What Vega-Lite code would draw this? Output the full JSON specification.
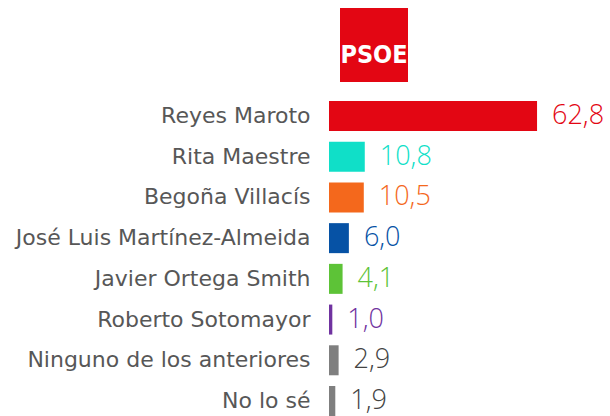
{
  "$schema": "https://vega.github.io/schema/vega-lite/v6.json",
  "padding": {"left": 0, "top": 8, "right": 0, "bottom": 0},
  "background": "white",
  "spacing": 19,
  "config": {
    "view": {"stroke": null},
    "locale": {"number": {"decimal": ",", "thousands": ".", "grouping": [3], "currency": ["", " €"]}}
  },
  "resolve": {"scale": {"x": "independent", "y": "independent"}},
  "vconcat": [
    {
      "width": 90,
      "height": 74,
      "data": {"values": [{"partido": "PSOE"}]},
      "encoding": {
        "x": {"field": "partido", "type": "nominal", "axis": null, "scale": {"paddingInner": 0, "paddingOuter": 0.1618}},
        "y": {"field": "partido", "type": "nominal", "axis": null, "scale": {"paddingInner": 0, "paddingOuter": 0}}
      },
      "layer": [
        {"mark": {"type": "rect", "color": "#E30613"}},
        {
          "mark": {"type": "text", "color": "white", "font": "'DejaVu Sans Condensed', Roboto, sans-serif", "fontWeight": "bold", "fontSize": 25, "baseline": "alphabetic", "align": "center", "dy": 18},
          "encoding": {"text": {"field": "partido"}}
        }
      ]
    },
    {
      "width": 270,
      "height": 315,
      "data": {"values": [
        {"candidato": "Reyes Maroto", "valor": 62.8},
        {"candidato": "Rita Maestre", "valor": 10.8},
        {"candidato": "Begoña Villacís", "valor": 10.5},
        {"candidato": "José Luis Martínez-Almeida", "valor": 6.0},
        {"candidato": "Javier Ortega Smith", "valor": 4.1},
        {"candidato": "Roberto Sotomayor", "valor": 1.0},
        {"candidato": "Ninguno de los anteriores", "valor": 2.9},
        {"candidato": "No lo sé", "valor": 1.9}
      ]},
      "encoding": {
        "y": {
          "field": "candidato", "type": "nominal", "sort": null,
          "scale": {"paddingInner": 0.2632, "paddingOuter": 0},
          "axis": {
            "title": null, "domain": false, "ticks": false, "tickSize": 0,
            "labelPadding": 19, "labelFont": "DejaVu Sans", "labelFontSize": 22,
            "labelColor": "#575757", "labelLimit": 400, "minExtent": 329, "maxExtent": 329
          }
        },
        "x": {"field": "valor", "type": "quantitative", "axis": null, "scale": {"domain": [0, 81.5], "nice": false}}
      },
      "layer": [
        {
          "mark": {"type": "bar"},
          "encoding": {
            "color": {
              "field": "candidato", "type": "nominal", "legend": null,
              "scale": {
                "domain": ["Reyes Maroto", "Rita Maestre", "Begoña Villacís", "José Luis Martínez-Almeida", "Javier Ortega Smith", "Roberto Sotomayor", "Ninguno de los anteriores", "No lo sé"],
                "range": ["#E30613", "#10DFC8", "#F4681C", "#0652A5", "#5DC337", "#7033A0", "#7F7F7F", "#7F7F7F"]
              }
            }
          }
        },
        {
          "mark": {"type": "text", "align": "left", "baseline": "middle", "dx": 15, "font": "Open Sans", "fontWeight": 300, "fontSize": 27},
          "encoding": {
            "text": {"field": "valor", "type": "quantitative", "format": ".1f"},
            "color": {
              "field": "candidato", "type": "nominal", "legend": null,
              "scale": {
                "domain": ["Reyes Maroto", "Rita Maestre", "Begoña Villacís", "José Luis Martínez-Almeida", "Javier Ortega Smith", "Roberto Sotomayor", "Ninguno de los anteriores", "No lo sé"],
                "range": ["#E30613", "#10DFC8", "#F4681C", "#0652A5", "#5DC337", "#7033A0", "#444444", "#444444"]
              }
            }
          }
        }
      ],
      "resolve": {"scale": {"color": "independent"}}
    }
  ]
}
